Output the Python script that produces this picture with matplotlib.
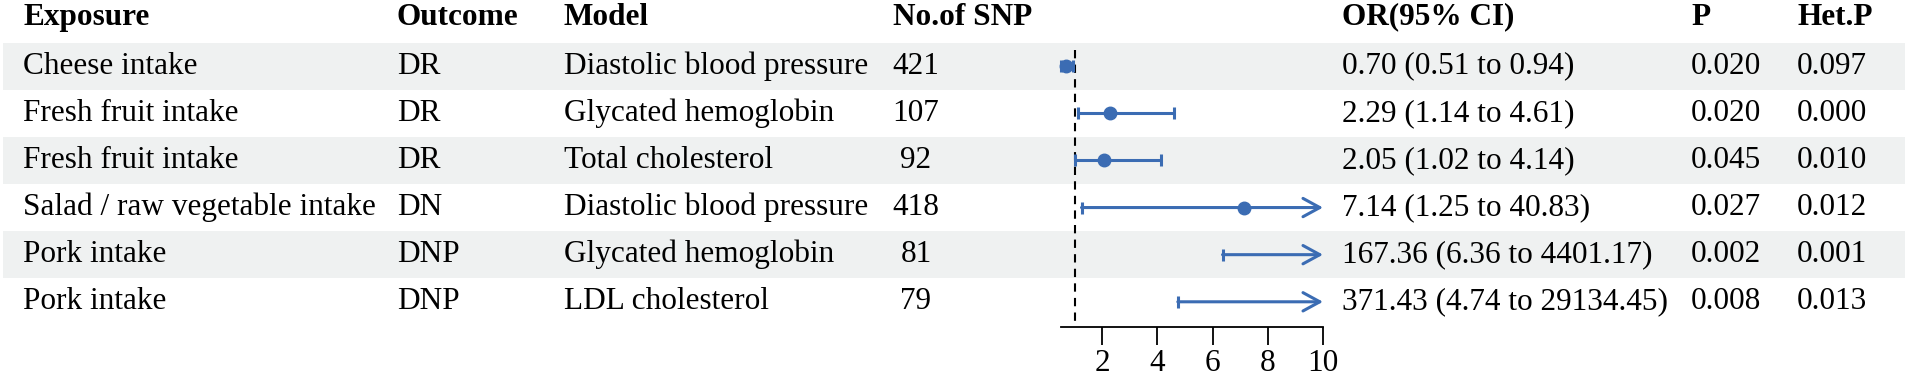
import matplotlib.pyplot as plt
import matplotlib.transforms as mtransforms
from matplotlib.patches import Rectangle

plt.rcParams['font.family'] = ['Liberation Serif', 'DejaVu Serif']

# table data
exposure = ['Cheese intake', 'Fresh fruit intake', 'Fresh fruit intake',
            'Salad / raw vegetable intake', 'Pork intake', 'Pork intake']
outcome = ['DR', 'DR', 'DR', 'DN', 'DNP', 'DNP']
model = ['Diastolic blood pressure', 'Glycated hemoglobin', 'Total cholesterol',
         'Diastolic blood pressure', 'Glycated hemoglobin', 'LDL cholesterol']
n_snp = [421, 107, 92, 418, 81, 79]
odds = [0.70, 2.29, 2.05, 7.14, 167.36, 371.43]
ci_low = [0.51, 1.14, 1.02, 1.25, 6.36, 4.74]
ci_high = [0.94, 4.61, 4.14, 40.83, 4401.17, 29134.45]
p_val = ['0.020', '0.020', '0.045', '0.027', '0.002', '0.008']
het_p = ['0.097', '0.000', '0.010', '0.012', '0.001', '0.013']
xticks = [2, 4, 6, 8, 10]

W, H = 1905, 380
fig = plt.figure(figsize=(W / 100, H / 100), dpi=100)

# forest axes: x=0 at 1047px, 27.6 px per unit; rows 47px apart
x0_px, unit = 1047, 27.6
ax = fig.add_axes([0, 0, 1, 1])
ax.set_xlim(-x0_px / unit, (W - x0_px) / unit)
ax.set_ylim(1 - (H - 302) / 47, 6 + 66 / 47)

blue = '#3b6cb3'
fs = 22.5
tr = mtransforms.blended_transform_factory(ax.transAxes, ax.transData)
n = len(exposure)
xmax = 10

# striped rows
for i in range(n):
    y = n - i
    if i % 2 == 0:
        ax.add_patch(Rectangle((3 / W, y - 0.5), 1, 1, transform=tr,
                               facecolor='#eff1f1', edgecolor='none', zorder=0))

# column headers and text
cols = [(23, 'Exposure'), (397, 'Outcome'), (564, 'Model'), (893, 'No.of SNP'),
        (1342, 'OR(95% CI)'), (1691, 'P'), (1797, 'Het.P')]
for xp, label in cols:
    ax.text(xp / W, n + 1.04, label, transform=tr, fontsize=fs, fontweight='bold',
            va='center', ha='left')

for i in range(n):
    y = n - i
    ax.text(23 / W, y, exposure[i], transform=tr, fontsize=fs, va='center')
    ax.text(397 / W, y, outcome[i], transform=tr, fontsize=fs, va='center')
    ax.text(564 / W, y, model[i], transform=tr, fontsize=fs, va='center')
    ax.text(916 / W, y, str(n_snp[i]), transform=tr, fontsize=fs, va='center', ha='center')
    ax.text(1342 / W, y, f'{odds[i]:.2f} ({ci_low[i]:.2f} to {ci_high[i]:.2f})',
            transform=tr, fontsize=fs, va='center')
    ax.text(1691 / W, y, p_val[i], transform=tr, fontsize=fs, va='center')
    ax.text(1797 / W, y, het_p[i], transform=tr, fontsize=fs, va='center')

    # CI line
    if ci_high[i] > xmax:
        ax.annotate('', xy=(xmax, y), xytext=(ci_low[i], y),
                    arrowprops=dict(arrowstyle='->, head_length=0.55, head_width=0.3',
                                    color=blue, lw=2.2, shrinkA=0, shrinkB=0,
                                    mutation_scale=22))
        ax.plot([ci_low[i]], [y], marker='|', color=blue, markersize=9, mew=2.2)
    else:
        ax.errorbar(odds[i], y, xerr=[[odds[i] - ci_low[i]], [ci_high[i] - odds[i]]],
                    fmt='none', ecolor=blue, elinewidth=2.2, capsize=4.5, capthick=2.2)
    if odds[i] <= xmax:
        ax.plot(odds[i], y, 'o', color=blue, markersize=9)

# reference line at OR = 1
axis_y = 1 - 25 / 47
ax.plot([1, 1], [n + 0.35, axis_y], color='black', lw=1.5, ls=(0, (4, 3)), zorder=1)

# bottom axis
for s in ['left', 'right', 'top']:
    ax.spines[s].set_visible(False)
ax.spines['bottom'].set_position(('data', axis_y))
ax.spines['bottom'].set_bounds(0.5, 10)
ax.spines['bottom'].set_linewidth(1.3)
ax.set_yticks([])
ax.set_xticks(xticks)
ax.tick_params(axis='x', direction='out', length=13, width=1.3, labelsize=fs, pad=3)

fig.savefig('out.png', dpi=100)
